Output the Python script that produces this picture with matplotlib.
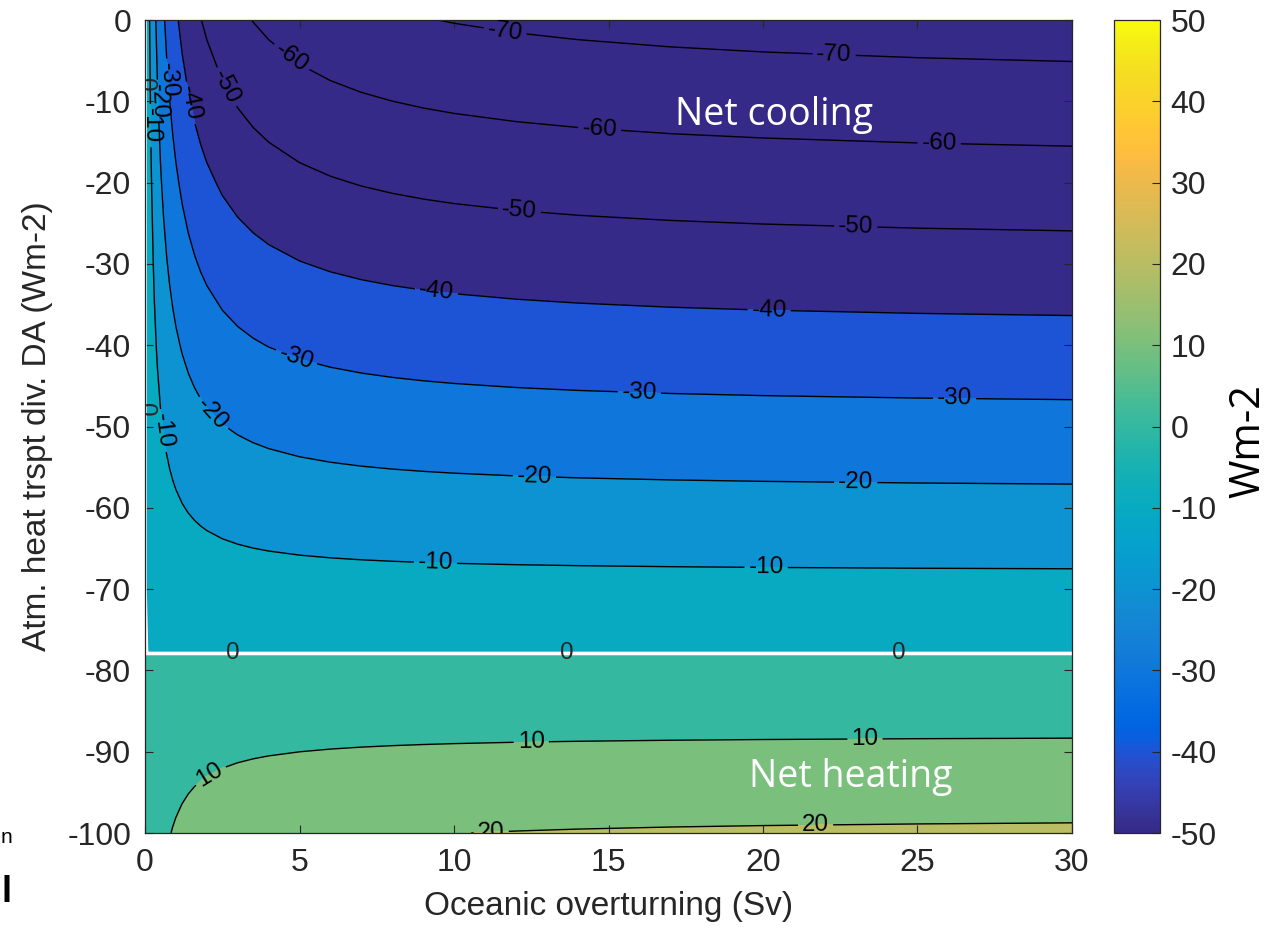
import numpy as np
import matplotlib
matplotlib.use("Agg")
import matplotlib.pyplot as plt
from matplotlib.colors import LinearSegmentedColormap, Normalize
import matplotlib.cm as cm

# ---------------- data ----------------
# Oceanic overturning grid (Sv)
overturning_sv = [0, 0.05, 0.1, 0.15, 0.2, 0.3, 0.4, 0.5, 0.6, 0.7, 0.8, 0.9,
                  1.0, 1.2, 1.4, 1.6, 1.8, 2.0, 2.5, 3, 3.5, 4, 5, 6, 7, 8, 9,
                  10, 12, 14, 17, 20, 25, 30]
# relative strength of the net heating vs. its value at 30 Sv
relative_factor = [0.0, 0.0492, 0.0939, 0.1348, 0.1722, 0.2385, 0.2952, 0.3444,
                   0.3875, 0.4255, 0.4593, 0.4895, 0.5167, 0.5636, 0.6028, 0.6359,
                   0.6643, 0.6889, 0.7381, 0.7750, 0.8037, 0.8267, 0.8611, 0.8857,
                   0.9042, 0.9185, 0.9300, 0.9394, 0.9538, 0.9644, 0.9759, 0.9841,
                   0.9936, 1.0]
# Atmospheric heat transport divergence DA (Wm-2)
da_wm2 = [0, -10, -20, -30, -40, -50, -60, -70, -80, -90, -100]
# net heating (Wm-2) at 30 Sv for each DA value
net_flux_at_30sv = [-74.9, -65.3, -55.7, -46.1, -36.5, -26.8, -17.2, -7.6, 2.0, 11.6, 21.2]

fill_levels = [-80, -70, -60, -50, -40, -30, -20, -10, 0, 10, 20, 30]
line_levels = [-70, -60, -50, -40, -30, -20, -10, 10, 20]
colorbar_ticks = [-50, -40, -30, -20, -10, 0, 10, 20, 30, 40, 50]

# ---------------- MATLAB parula colormap ----------------
PARULA = [
    (0.2081, 0.1663, 0.5292), (0.2116, 0.1898, 0.5777), (0.2123, 0.2138, 0.6270),
    (0.2081, 0.2386, 0.6771), (0.1959, 0.2645, 0.7279), (0.1707, 0.2919, 0.7792),
    (0.1253, 0.3242, 0.8303), (0.0591, 0.3598, 0.8683), (0.0117, 0.3875, 0.8820),
    (0.0060, 0.4086, 0.8828), (0.0165, 0.4266, 0.8786), (0.0329, 0.4430, 0.8720),
    (0.0498, 0.4586, 0.8641), (0.0629, 0.4737, 0.8554), (0.0723, 0.4887, 0.8467),
    (0.0779, 0.5040, 0.8384), (0.0793, 0.5200, 0.8312), (0.0749, 0.5375, 0.8263),
    (0.0641, 0.5570, 0.8240), (0.0488, 0.5772, 0.8228), (0.0343, 0.5966, 0.8199),
    (0.0265, 0.6137, 0.8135), (0.0239, 0.6287, 0.8038), (0.0231, 0.6418, 0.7913),
    (0.0228, 0.6535, 0.7768), (0.0267, 0.6642, 0.7607), (0.0384, 0.6743, 0.7436),
    (0.0590, 0.6838, 0.7254), (0.0843, 0.6928, 0.7062), (0.1133, 0.7015, 0.6859),
    (0.1453, 0.7098, 0.6646), (0.1801, 0.7177, 0.6424), (0.2178, 0.7250, 0.6193),
    (0.2586, 0.7317, 0.5954), (0.3022, 0.7376, 0.5712), (0.3482, 0.7424, 0.5473),
    (0.3953, 0.7459, 0.5244), (0.4420, 0.7481, 0.5033), (0.4871, 0.7491, 0.4840),
    (0.5300, 0.7491, 0.4661), (0.5709, 0.7485, 0.4494), (0.6099, 0.7473, 0.4337),
    (0.6473, 0.7456, 0.4188), (0.6834, 0.7435, 0.4044), (0.7184, 0.7411, 0.3905),
    (0.7525, 0.7384, 0.3768), (0.7858, 0.7356, 0.3633), (0.8185, 0.7327, 0.3498),
    (0.8507, 0.7299, 0.3360), (0.8824, 0.7274, 0.3217), (0.9139, 0.7258, 0.3063),
    (0.9450, 0.7261, 0.2886), (0.9739, 0.7314, 0.2666), (0.9938, 0.7455, 0.2403),
    (0.9990, 0.7653, 0.2164), (0.9955, 0.7861, 0.1967), (0.9880, 0.8066, 0.1794),
    (0.9789, 0.8271, 0.1633), (0.9697, 0.8481, 0.1475), (0.9626, 0.8705, 0.1309),
    (0.9589, 0.8949, 0.1132), (0.9598, 0.9218, 0.0948), (0.9661, 0.9514, 0.0755),
    (0.9763, 0.9831, 0.0538)]
parula = LinearSegmentedColormap.from_list("parula", PARULA, N=256)

plt.rcParams["font.family"] = ["Liberation Sans", "DejaVu Sans"]
plt.rcParams["axes.unicode_minus"] = False
TXT = "#262626"

fig = plt.figure(figsize=(12.78, 9.32), dpi=100)
ax = fig.add_axes([0.11346, 0.10622, 0.72535, 0.87232])
cax = fig.add_axes([0.87167, 0.10622, 0.0360, 0.87232])

X = np.asarray(overturning_sv, dtype=float)
Y = np.asarray(da_wm2, dtype=float)
Z = np.outer(np.asarray(net_flux_at_30sv), np.asarray(relative_factor))

norm = Normalize(vmin=-50, vmax=50, clip=True)
band_colors = [parula(norm(lv)) for lv in fill_levels[:-1]]   # MATLAB: colour of lower level
ax.contourf(X, Y, Z, levels=fill_levels, colors=band_colors)

cs = ax.contour(X, Y, Z, levels=line_levels, colors="k", linewidths=1.0,
                linestyles="solid")
zero = ax.contour(X, Y, Z, levels=[-1e-6], colors="white", linewidths=2.6,
                  linestyles="solid")

label_pos = [
    (11.65, -1.5), (22.3, -4.4),
    (4.7, -4.8), (14.7, -14.0), (25.7, -15.4),
    (2.6, -8.3), (12.1, -24.3), (23.0, -25.6),
    (1.46, -10.2), (9.4, -34.4), (20.2, -35.8),
    (4.9, -41.5), (16.0, -46.0), (26.2, -46.6), (0.75, -7.4),
    (2.17, -48.5), (12.6, -56.4), (23.0, -57.0), (0.42, -10.0),
    (0.58, -50.5), (9.4, -66.8), (20.1, -67.3), (0.19, -13.0),
    (2.1, -92.8), (12.5, -88.6), (23.3, -88.3),
    (11.2, -99.5), (21.7, -98.7),
]
ax.clabel(cs, fmt="%d", fontsize=17.5, inline=True, inline_spacing=4,
          manual=label_pos, colors="k")
ax.clabel(zero, fmt=lambda v: "0", fontsize=17.5, inline=False,
          manual=[(2.85, -77.9), (13.66, -77.9), (24.4, -77.9), (0.0, -8.0), (0.0, -48.0)],
          colors=TXT)

ax.set_xlim(0, 30)
ax.set_ylim(-100, 0)
ax.set_xticks([0, 5, 10, 15, 20, 25, 30])
ax.set_yticks(list(range(-100, 1, 10)))
ax.tick_params(axis="both", direction="in", top=True, right=True, length=5.5,
               width=0.8, color=TXT, labelcolor=TXT, labelsize=23)
ax.tick_params(axis="x", pad=11)
ax.tick_params(axis="y", pad=10)
for sp in ax.spines.values():
    sp.set_color(TXT)
    sp.set_linewidth(0.9)

ax.set_xlabel("Oceanic overturning (Sv)", fontsize=24, color=TXT, va="baseline")
ax.xaxis.set_label_coords(0.5, -0.1009)
ax.set_ylabel("Atm. heat trspt div. DA (Wm-2)", fontsize=24, color=TXT,
              va="center", ha="center")
ax.yaxis.set_label_coords(-0.1165, 0.5)

ax.text(20.36, -12.9, "Net cooling", color="white", fontsize=27,
        family="Open Sans", ha="center", va="baseline")
ax.text(22.83, -94.3, "Net heating", color="white", fontsize=27,
        family="Open Sans", ha="center", va="baseline")

sm = cm.ScalarMappable(norm=Normalize(vmin=-50, vmax=50), cmap=parula)
cb = fig.colorbar(sm, cax=cax, ticks=colorbar_ticks)
cb.outline.set_edgecolor(TXT)
cb.outline.set_linewidth(0.9)
cax.tick_params(direction="in", length=5.5, width=0.8, color=TXT,
                labelcolor=TXT, labelsize=23, pad=7.5)
fig.text(1248 / 1278, 1 - 441 / 932, "Wm-2", rotation=90, fontsize=30,
         family="Open Sans", ha="center", va="center", color="black")

# fragments of neighbouring text at the far left edge
fig.text(1 / 1278, 1 - 843 / 932, "n", ha="left", va="baseline", fontsize=15,
         color="black")
fig.text(1 / 1278, 1 - 902 / 932, "l", ha="left", va="baseline", fontsize=26,
         fontweight="bold", color="black")

fig.savefig("out.png", dpi=100)
